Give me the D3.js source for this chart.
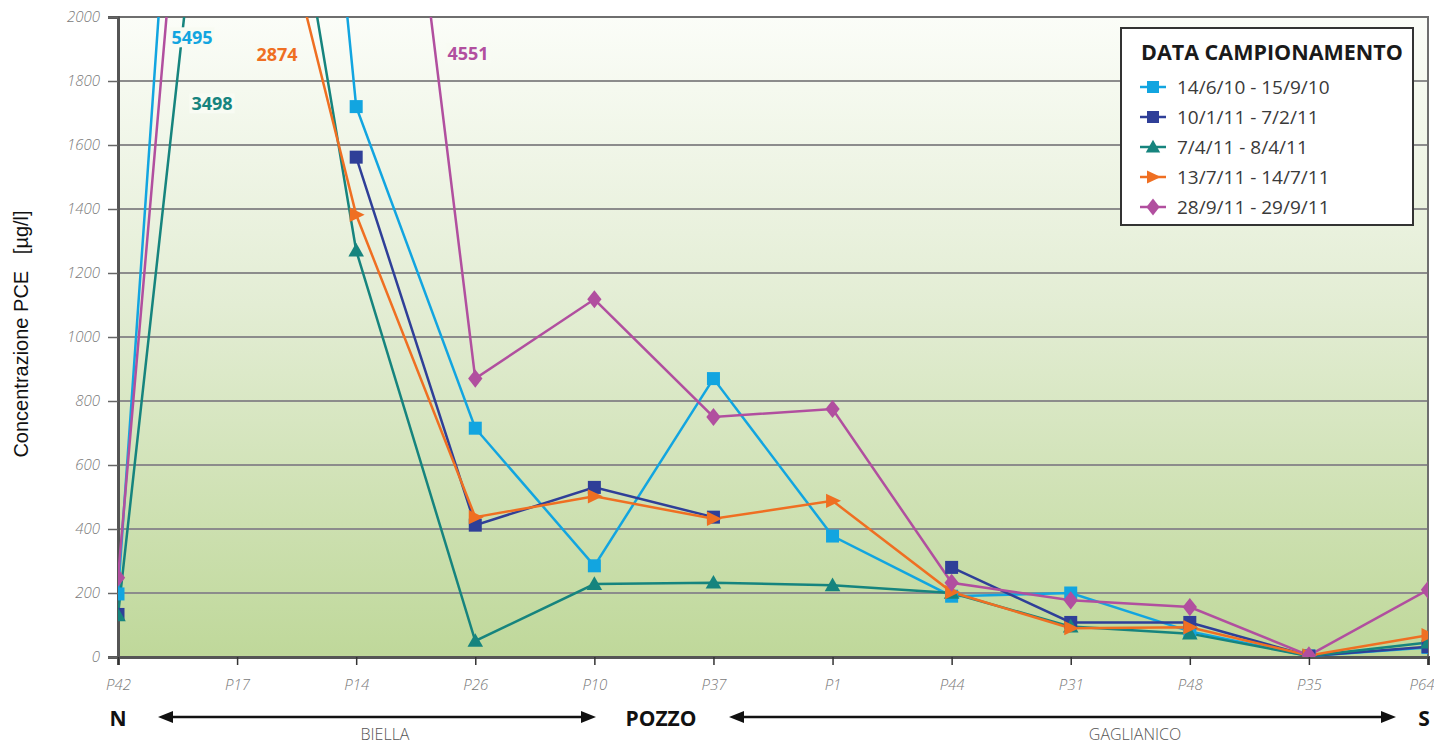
<!DOCTYPE html>
<html>
<head>
<meta charset="utf-8">
<script src="https://cdn.jsdelivr.net/npm/d3@7"></script>
<style>
  body { margin: 0; background: #fff; }
  svg { display: block; }
</style>
</head>
<body>
<svg id="chart" width="1434" height="744"></svg>
<script>
"use strict";

// sampling points, north to south
const pozzi = ["P42", "P17", "P14", "P26", "P10", "P37", "P1", "P44", "P31", "P48", "P35", "P64"];

// PCE concentration per campaign (null = not sampled)
const camp1 = [197, 5495, 1720, 715, 285, 870, 378, 190, 200, 80, 3, 30];
const camp2 = [133, null, 1562, 412, 530, 437, null, 280, 108, 108, 3, 32];
const camp3 = [130, 3498, 1270, 50, 228, 232, 224, 200, 95, 73, 3, 45];
const camp4 = [null, 2874, 1382, 437, 502, 432, 488, 203, 90, 93, 5, 68];
const camp5 = [248, 4551, 3900, 870, 1118, 750, 775, 232, 177, 156, 5, 210];

const legendLabels = ["14/6/10 - 15/9/10", "10/1/11 - 7/2/11", "7/4/11 - 8/4/11", "13/7/11 - 14/7/11", "28/9/11 - 29/9/11"];
const yTicks = [0, 200, 400, 600, 800, 1000, 1200, 1400, 1600, 1800, 2000];

// peak values written on the chart (they are off the scale)
const peakNotes = [
    {text: "5495", serie: 0},
    {text: "2874", serie: 3},
    {text: "3498", serie: 2},
    {text: "4551", serie: 4}
];

const colors = ["#12a5e0", "#2f3f98", "#16847e", "#ef6f22", "#b14f9f"];
const symbols = ["square", "square", "triangle", "arrow", "diamond"];

const series = [camp1, camp2, camp3, camp4, camp5];

const svg = d3.select("#chart");
const margin = {top: 17, right: 6, bottom: 87, left: 118};
const W = 1434, H = 744;
const innerW = W - margin.left - margin.right;
const innerH = H - margin.top - margin.bottom;

const x = d3.scalePoint().domain(pozzi).range([0, innerW]);
const y = d3.scaleLinear().domain([0, 2000]).range([innerH, 0]);

// background gradient
const defs = svg.append("defs");
const grad = defs.append("linearGradient")
    .attr("id", "bg")
    .attr("x1", 0).attr("y1", 0).attr("x2", 0).attr("y2", 1);
grad.append("stop").attr("offset", "0%").attr("stop-color", "#fbfdf8");
grad.append("stop").attr("offset", "45%").attr("stop-color", "#e3edd4");
grad.append("stop").attr("offset", "100%").attr("stop-color", "#bfd89a");

defs.append("clipPath").attr("id", "clip")
    .append("rect").attr("width", innerW).attr("height", innerH);

const g = svg.append("g").attr("transform", `translate(${margin.left},${margin.top})`);

g.append("rect")
    .attr("width", innerW)
    .attr("height", innerH)
    .attr("fill", "url(#bg)");

// horizontal grid
g.selectAll(".grid")
    .data(yTicks.slice(1))
    .enter().append("line")
    .attr("x1", 0).attr("x2", innerW)
    .attr("y1", d => y(d)).attr("y2", d => y(d))
    .attr("stroke", "#8c8c8c")
    .attr("stroke-width", 2);

// frame
g.append("rect")
    .attr("width", innerW).attr("height", innerH)
    .attr("fill", "none")
    .attr("stroke", "#6e6e6e")
    .attr("stroke-width", 2);

const tickFont = sel => sel
    .attr("font-family", "'Open Sans', sans-serif")
    .attr("font-style", "italic")
    .attr("font-weight", 300)
    .attr("font-size", 15)
    .attr("fill", "#7a7a7a");

// y axis
const yAxis = g.append("g")
    .call(d3.axisLeft(y).tickValues(yTicks).tickFormat(d3.format("d")).tickSize(10).tickPadding(8));
yAxis.select(".domain").attr("stroke", "#555").attr("stroke-width", 3);
yAxis.selectAll(".tick line").attr("stroke", "#666").attr("stroke-width", 1.5);
yAxis.selectAll("text").call(tickFont);

// x axis
const xAxis = g.append("g")
    .attr("transform", `translate(0,${innerH})`)
    .call(d3.axisBottom(x).tickSize(8).tickPadding(14));
xAxis.select(".domain").attr("stroke", "#555").attr("stroke-width", 3);
xAxis.selectAll(".tick line").attr("stroke", "#333").attr("stroke-width", 1.5);
xAxis.selectAll("text").call(tickFont);
// last label would run off the page
xAxis.selectAll(".tick").filter(d => d === "P64").select("text")
    .attr("text-anchor", "end").attr("x", 6);

// markers
function drawMarker(sel, kind, color, s) {
    if (kind === "square") {
        sel.append("rect").attr("x", -s / 2).attr("y", -s / 2).attr("width", s).attr("height", s).attr("fill", color);
    } else if (kind === "triangle") {
        sel.append("path").attr("d", `M0,${-s * 0.6}L${s * 0.6},${s * 0.45}L${-s * 0.6},${s * 0.45}Z`).attr("fill", color);
    } else if (kind === "arrow") {
        sel.append("path").attr("d", `M${s * 0.65},0L${-s * 0.5},${-s * 0.55}L${-s * 0.5},${s * 0.55}Z`).attr("fill", color);
    } else {
        sel.append("path").attr("d", `M0,${-s * 0.7}L${s * 0.55},0L0,${s * 0.7}L${-s * 0.55},0Z`).attr("fill", color);
    }
}

const line = d3.line()
    .defined(d => d !== null)
    .x((d, i) => x(pozzi[i]))
    .y(d => y(d));

const plot = g.append("g").attr("clip-path", "url(#clip)");

series.forEach(function(values, k) {
    plot.append("path")
        .datum(values)
        .attr("d", line)
        .attr("fill", "none")
        .attr("stroke", colors[k])
        .attr("stroke-width", 2.5);
});

series.forEach(function(values, k) {
    const pts = values.map((v, i) => ({v: v, p: pozzi[i]})).filter(d => d.v !== null && d.v <= 2000);
    plot.selectAll(".m" + k)
        .data(pts)
        .enter().append("g")
        .attr("transform", d => `translate(${x(d.p)},${y(d.v)})`)
        .each(function() { drawMarker(d3.select(this), symbols[k], colors[k], 13); });
});

// off-scale values
const notePos = [[192, 38], [277, 55], [212, 104], [468, 54]];
peakNotes.forEach(function(n, i) {
    const ng = svg.append("g");
    const bgRect = ng.append("rect").attr("fill", "#f8fbf3");
    const t = ng.append("text")
        .attr("x", notePos[i][0])
        .attr("y", notePos[i][1])
        .attr("dy", "0.35em")
        .attr("text-anchor", "middle")
        .attr("font-family", "'Open Sans', sans-serif")
        .attr("font-weight", 700)
        .attr("font-size", 18)
        .attr("fill", colors[n.serie])
        .text(n.text);
    const b = t.node().getBBox();
    bgRect.attr("x", b.x - 2).attr("y", b.y + 2)
        .attr("width", b.width + 4).attr("height", b.height - 4);
});

// legend
const lg = svg.append("g").attr("transform", "translate(1121,28)");
lg.append("rect")
    .attr("width", 292).attr("height", 197)
    .attr("fill", "#fff")
    .attr("stroke", "#333")
    .attr("stroke-width", 2);
lg.append("text")
    .attr("x", 20).attr("y", 32)
    .attr("font-family", "'Open Sans', sans-serif")
    .attr("font-weight", 700)
    .attr("font-size", 21.5)
    .attr("fill", "#1a1a1a")
    .text("DATA CAMPIONAMENTO");
legendLabels.forEach(function(lab, k) {
    const row = lg.append("g").attr("transform", `translate(0,${59 + k * 30})`);
    row.append("line").attr("x1", 19).attr("x2", 45).attr("stroke", colors[k]).attr("stroke-width", 2.5);
    drawMarker(row.append("g").attr("transform", "translate(32,0)"), symbols[k], colors[k], 12);
    row.append("text")
        .attr("x", 56).attr("dy", "0.35em")
        .attr("font-family", "'Open Sans', sans-serif")
        .attr("font-size", 19)
        .attr("fill", "#3a3a3a")
        .text(lab);
});

// y title
svg.append("text")
    .attr("transform", "translate(28,334) rotate(-90)")
    .attr("text-anchor", "middle")
    .attr("font-family", "'Liberation Sans', Arial, sans-serif")
    .attr("font-size", 20)
    .attr("fill", "#111")
    .style("white-space", "pre")
    .text("Concentrazione PCE   [µg/l]");

// bottom direction arrows
function arrow(x1, x2, yy) {
    svg.append("line").attr("x1", x1 + 8).attr("x2", x2 - 8).attr("y1", yy).attr("y2", yy)
        .attr("stroke", "#111").attr("stroke-width", 2.5);
    svg.append("path").attr("d", `M${x1},${yy}L${x1 + 15},${yy - 6}L${x1 + 15},${yy + 6}Z`).attr("fill", "#111");
    svg.append("path").attr("d", `M${x2},${yy}L${x2 - 15},${yy - 6}L${x2 - 15},${yy + 6}Z`).attr("fill", "#111");
}
arrow(158, 596, 717);
arrow(729, 1396, 717);

const bold = [["N", 118], ["POZZO", 661], ["S", 1424]];
bold.forEach(function(b) {
    svg.append("text")
        .attr("x", b[1]).attr("y", 726)
        .attr("text-anchor", "middle")
        .attr("font-family", "'Open Sans', sans-serif")
        .attr("font-weight", 700)
        .attr("font-size", 21)
        .attr("fill", "#111")
        .text(b[0]);
});
[["BIELLA", 385], ["GAGLIANICO", 1135]].forEach(function(b) {
    svg.append("text")
        .attr("x", b[1]).attr("y", 740)
        .attr("text-anchor", "middle")
        .attr("font-family", "'Open Sans', sans-serif")
        .attr("font-weight", 300)
        .attr("font-size", 16)
        .attr("fill", "#555")
        .text(b[0]);
});
</script>
</body>
</html>
